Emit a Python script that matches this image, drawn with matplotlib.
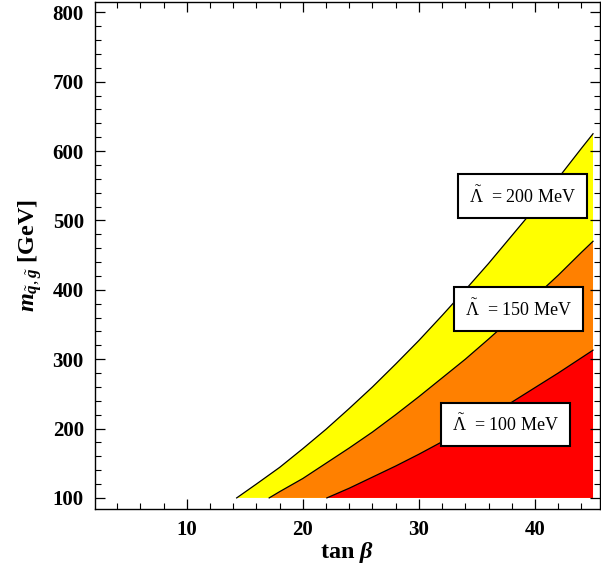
import numpy as np
import matplotlib
matplotlib.use('Agg')
import matplotlib.pyplot as plt
from matplotlib.ticker import MultipleLocator

plt.rcParams['font.family'] = ['Liberation Serif', 'DejaVu Serif']
plt.rcParams['mathtext.fontset'] = 'custom'
plt.rcParams['mathtext.rm'] = 'Liberation Serif'
plt.rcParams['mathtext.it'] = 'Liberation Serif:italic:bold'
plt.rcParams['mathtext.bf'] = 'Liberation Serif:bold'

# contour lines (tan beta, m in GeV)
tb_200 = [14.3, 16, 18, 20, 22, 24, 26, 28, 30, 32, 34, 36, 38, 40, 42, 44, 45]
m_200 = [100, 120, 144, 171, 199, 229, 260, 293, 327, 363, 400, 438, 478, 518, 561, 604, 625]

tb_150 = [17.1, 18, 20, 22, 24, 26, 28, 30, 32, 34, 36, 38, 40, 42, 44, 45]
m_150 = [100, 109, 128, 150, 172, 195, 220, 246, 273, 300, 329, 359, 390, 421, 454, 470]

tb_100 = [22.07, 24, 26, 28, 30, 32, 34, 36, 38, 40, 42, 44, 45]
m_100 = [100, 114, 130, 146, 163, 181, 200, 219, 238, 259, 280, 302, 313]

labels = [r'$\tilde{\Lambda}$  = 200 MeV', r'$\tilde{\Lambda}$  = 150 MeV', r'$\tilde{\Lambda}$  = 100 MeV']
label_pos = [(38.95, 535), (38.56, 372), (37.48, 206)]
colors = ['#ffff00', '#ff8000', '#ff0000']

fig = plt.figure(figsize=(6.01, 5.66), dpi=100)
ax = fig.add_axes([0.158, 0.1007, 0.8403, 0.8958])

for tb, m, c in zip([tb_200, tb_150, tb_100], [m_200, m_150, m_100], colors):
    ax.fill_between(tb, m, 100, facecolor=c, edgecolor='none', zorder=1)
    ax.plot(tb, m, color='black', lw=0.9, zorder=2)

for txt, (x, y) in zip(labels, label_pos):
    ax.text(x, y, txt, ha='center', va='center', fontsize=13, zorder=3,
            bbox=dict(boxstyle='square,pad=0.62', facecolor='white', edgecolor='black', lw=1.5))

ax.set_xlim(2.09, 45.6)
ax.set_ylim(84, 815)
ax.xaxis.set_major_locator(MultipleLocator(10))
ax.xaxis.set_minor_locator(MultipleLocator(2))
ax.yaxis.set_major_locator(MultipleLocator(100))
ax.yaxis.set_minor_locator(MultipleLocator(20))
ax.tick_params(which='both', direction='in', top=True, right=True, labelsize=15)
ax.tick_params(which='major', length=7, width=0.9, pad=8)
ax.tick_params(which='minor', length=4, width=0.8)
for lab in ax.get_xticklabels() + ax.get_yticklabels():
    lab.set_fontweight('bold')
for s in ax.spines.values():
    s.set_linewidth(1.0)

ax.set_xlabel(r'tan $\beta$', fontsize=17.5, fontweight='bold', labelpad=0)
ax.set_ylabel(r'$m_{\tilde{q},\tilde{g}}$ [GeV]', fontsize=17.5, fontweight='bold', labelpad=6)

fig.savefig('out.png', dpi=100)
